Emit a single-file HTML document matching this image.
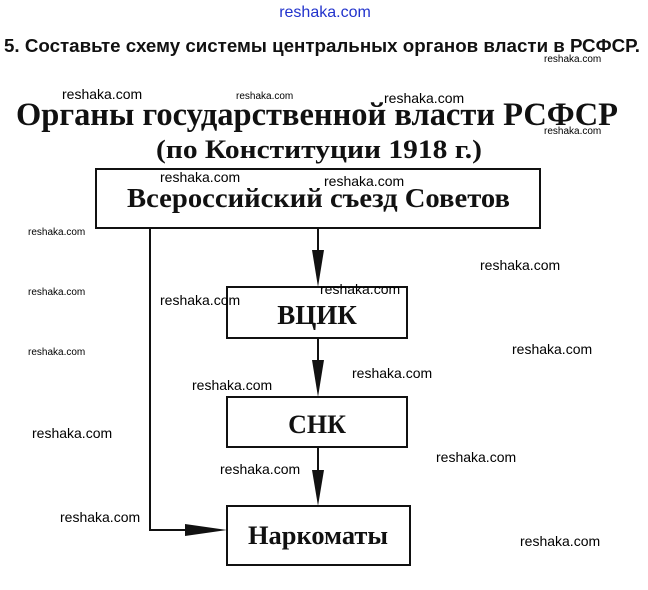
<!DOCTYPE html>
<html><head><meta charset="utf-8"><style>
body{margin:0;background:#fff;width:648px;height:590px;overflow:hidden}
svg{display:block}
.w{font-family:"Liberation Sans","DejaVu Sans",sans-serif;font-size:14px;fill:#000}
.ws{font-family:"Liberation Sans","DejaVu Sans",sans-serif;font-size:10px;fill:#000}
.s{font-family:"Liberation Serif","DejaVu Serif",serif;fill:#111}
</style></head><body>
<svg width="648" height="590" viewBox="0 0 648 590">
<text x="325" y="17" text-anchor="middle" style="font-family:'Liberation Sans',sans-serif;font-size:16px;fill:#2233cc">reshaka.com</text>
<text x="4" y="52" style="font-family:'Liberation Sans',sans-serif;font-size:18.5px;font-weight:bold;fill:#111" textLength="636" lengthAdjust="spacingAndGlyphs">5. Составьте схему системы центральных органов власти в РСФСР.</text>
<text x="16" y="125" class="s" style="font-size:33px;font-weight:bold" textLength="602" lengthAdjust="spacingAndGlyphs">Органы государственной власти РСФСР</text>
<text x="156" y="158" class="s" style="font-size:26px;font-weight:bold" textLength="326" lengthAdjust="spacingAndGlyphs">(по Конституции 1918 г.)</text>
<g fill="none" stroke="#111" stroke-width="2">
<rect x="96" y="169" width="444" height="59"/>
<rect x="227" y="287" width="180" height="51"/>
<rect x="227" y="397" width="180" height="50"/>
<rect x="227" y="506" width="183" height="59"/>
<path d="M150 228V530H215M318 228V275M318 338V386M318 447V495"/>
</g>
<g fill="#111">
<path d="M312 250L324 250L318 287Z"/>
<path d="M312 360L324 360L318 397Z"/>
<path d="M312 470L324 470L318 506Z"/>
<path d="M185 524L185 536L227 530Z"/>
</g>
<text x="127" y="207" class="s" style="font-size:27px;font-weight:bold" textLength="383" lengthAdjust="spacingAndGlyphs">Всероссийский съезд Советов</text>
<text x="317" y="324" class="s" text-anchor="middle" style="font-size:27px;font-weight:bold">ВЦИК</text>
<text x="317" y="433" class="s" text-anchor="middle" style="font-size:26px;font-weight:bold">СНК</text>
<text x="248" y="544" class="s" style="font-size:26px;font-weight:bold" textLength="140" lengthAdjust="spacingAndGlyphs">Наркоматы</text>
<text x="544" y="62" class="ws">reshaka.com</text>
<text x="62" y="99" class="w">reshaka.com</text>
<text x="236" y="99" class="ws">reshaka.com</text>
<text x="384" y="103" class="w">reshaka.com</text>
<text x="544" y="134" class="ws">reshaka.com</text>
<text x="160" y="182" class="w">reshaka.com</text>
<text x="324" y="186" class="w">reshaka.com</text>
<text x="28" y="235" class="ws">reshaka.com</text>
<text x="480" y="270" class="w">reshaka.com</text>
<text x="28" y="295" class="ws">reshaka.com</text>
<text x="320" y="294" class="w">reshaka.com</text>
<text x="160" y="305" class="w">reshaka.com</text>
<text x="512" y="354" class="w">reshaka.com</text>
<text x="28" y="355" class="ws">reshaka.com</text>
<text x="352" y="378" class="w">reshaka.com</text>
<text x="192" y="390" class="w">reshaka.com</text>
<text x="32" y="438" class="w">reshaka.com</text>
<text x="436" y="462" class="w">reshaka.com</text>
<text x="220" y="474" class="w">reshaka.com</text>
<text x="60" y="522" class="w">reshaka.com</text>
<text x="520" y="546" class="w">reshaka.com</text>
</svg>
</body></html>
